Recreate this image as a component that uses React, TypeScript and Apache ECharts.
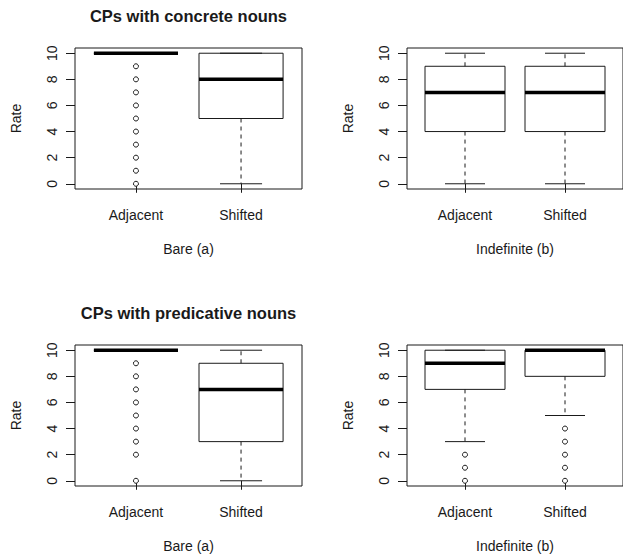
import React, { useEffect, useRef } from "react";
import * as echarts from "echarts";

const categories = ["Adjacent", "Shifted"];
const yTicks = [0, 2, 4, 6, 8, 10];

// box stats per category: [lower whisker, Q1, median, Q3, upper whisker]
const concreteBareStats = [
  [10, 10, 10, 10, 10],
  [0, 5, 8, 10, 10],
];
const concreteBareOutliers = [[9, 8, 7, 6, 5, 4, 3, 2, 1, 0], []];

const concreteIndefStats = [
  [0, 4, 7, 9, 10],
  [0, 4, 7, 9, 10],
];
const concreteIndefOutliers = [[], []];

const predBareStats = [
  [10, 10, 10, 10, 10],
  [0, 3, 7, 9, 10],
];
const predBareOutliers = [[9, 8, 7, 6, 5, 4, 3, 2, 0], []];

const predIndefStats = [
  [3, 7, 9, 10, 10],
  [5, 8, 10, 10, 10],
];
const predIndefOutliers = [[2, 1, 0], [4, 3, 2, 1, 0]];

const FONT = '"Liberation Sans", Arial, sans-serif';
const INK = "#1a1a1a";
const BOX_HALF = 0.4;
const CAP_HALF = 0.2;

const panels = [
  { left: 75, top: 48, stats: concreteBareStats, outliers: concreteBareOutliers, xTitle: "Bare (a)", title: "CPs with concrete nouns" },
  { left: 407, top: 48, stats: concreteIndefStats, outliers: concreteIndefOutliers, xTitle: "Indefinite (b)", title: "" },
  { left: 75, top: 345, stats: predBareStats, outliers: predBareOutliers, xTitle: "Bare (a)", title: "CPs with predicative nouns" },
  { left: 407, top: 345, stats: predIndefStats, outliers: predIndefOutliers, xTitle: "Indefinite (b)", title: "" },
];
const GRID_W = 227;
const GRID_H = 141;

const renderBox = (params: any, api: any) => {
  const x = api.value(0);
  const lo = api.value(1), q1 = api.value(2), med = api.value(3), q3 = api.value(4), hi = api.value(5);
  const c = (a: number, b: number) => api.coord([a, b]);
  const [xl, yq3] = c(x - BOX_HALF, q3);
  const [xr, yq1] = c(x + BOX_HALF, q1);
  const [xc, ylo] = c(x, lo);
  const yhi = c(x, hi)[1];
  const ymed = c(x, med)[1];
  const cl = c(x - CAP_HALF, lo)[0];
  const cr = c(x + CAP_HALF, lo)[0];
  const line = (x1: number, y1: number, x2: number, y2: number, style: any = {}) => ({
    type: "line",
    shape: { x1, y1, x2, y2 },
    style: { stroke: INK, lineWidth: 1, ...style },
  });
  return {
    type: "group",
    children: [
      line(xc, yq1, xc, ylo, { lineDash: [4, 4] }),
      line(xc, yq3, xc, yhi, { lineDash: [4, 4] }),
      line(cl, ylo, cr, ylo),
      line(cl, yhi, cr, yhi),
      {
        type: "rect",
        shape: { x: xl, y: yq3, width: xr - xl, height: yq1 - yq3 },
        style: { fill: "none", stroke: INK, lineWidth: 1 },
      },
      line(xl, ymed, xr, ymed, { lineWidth: 3.5, stroke: "#000" }),
    ],
  };
};

export default function App() {
  const ref = useRef<HTMLDivElement>(null);
  useEffect(() => {
    if (!ref.current) return;
    const chart = echarts.init(ref.current, undefined, { renderer: "svg" });
    const textStyle = { fontFamily: FONT, fontSize: 14, color: INK };
    const option: any = {
      animation: false,
      backgroundColor: "#fff",
      graphic: panels
        .filter((p) => p.title)
        .map((p) => ({
          type: "text",
          x: p.left + GRID_W / 2,
          y: p.top - 32,
          style: {
            text: p.title,
            align: "center",
            verticalAlign: "middle",
            fontFamily: FONT,
            fontSize: 16.5,
            fontWeight: "bold",
            fill: INK,
          },
        })),
      grid: panels.map((p) => ({
        left: p.left,
        top: p.top,
        width: GRID_W,
        height: GRID_H,
        show: true,
        borderColor: INK,
        borderWidth: 1,
        backgroundColor: "transparent",
      })),
      xAxis: panels.map((p, i) => ({
        gridIndex: i,
        type: "value",
        min: 0.42,
        max: 2.58,
        axisLine: { show: false },
        splitLine: { show: false },
        axisTick: { show: true, length: 9, customValues: [1, 2], lineStyle: { color: INK } },
        axisLabel: {
          customValues: [1, 2],
          formatter: (v: number) => categories[Math.round(v) - 1],
          margin: 19,
          ...textStyle,
        },
        name: p.xTitle,
        nameLocation: "middle",
        nameGap: 53,
        nameTextStyle: textStyle,
      })),
      yAxis: panels.map((p, i) => ({
        gridIndex: i,
        type: "value",
        min: -0.4,
        max: 10.4,
        axisLine: { show: false },
        splitLine: { show: false },
        axisTick: { show: true, length: 9, customValues: yTicks, lineStyle: { color: INK } },
        axisLabel: {
          customValues: yTicks,
          rotate: 90,
          margin: 16,
          ...textStyle,
        },
        name: "Rate",
        nameLocation: "middle",
        nameGap: 52,
        nameTextStyle: textStyle,
      })),
      series: panels.flatMap((p, i) => [
        {
          type: "custom",
          xAxisIndex: i,
          yAxisIndex: i,
          data: p.stats.map((s, j) => [j + 1, ...s]),
          encode: { x: 0, y: [1, 2, 3, 4, 5] },
          renderItem: renderBox,
          silent: true,
        },
        {
          type: "scatter",
          xAxisIndex: i,
          yAxisIndex: i,
          data: p.outliers.flatMap((vals, j) => vals.map((v) => [j + 1, v])),
          symbol: "circle",
          symbolSize: 5,
          itemStyle: { color: "#fff", borderColor: INK, borderWidth: 1, opacity: 1 },
          silent: true,
        },
      ]),
    };
    chart.setOption(option);
    return () => chart.dispose();
  }, []);
  return (
    <div
      ref={ref}
      style={{ position: "absolute", left: 0, top: 0, width: 623, height: 558, background: "#fff" }}
    />
  );
}
